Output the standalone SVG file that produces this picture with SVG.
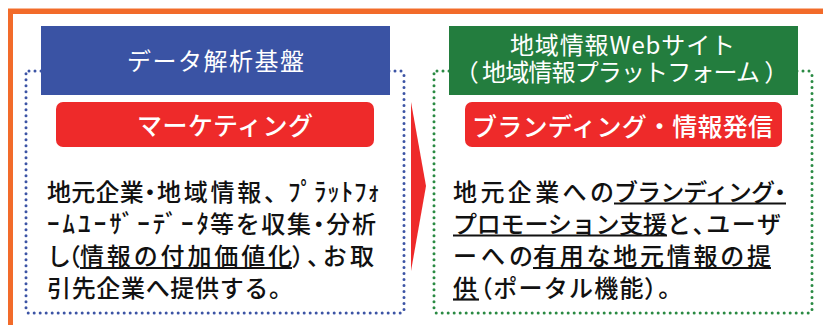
<svg xmlns="http://www.w3.org/2000/svg" width="823" height="325" viewBox="0 0 823 325">
<defs>
<style>
.body{font-family:"Noto Sans CJK JP","Noto Sans",sans-serif;font-size:24px;font-weight:500;fill:#111;}
.hw{font-size:25px;}
.p{font-feature-settings:"palt";}
.hd{font-family:"Noto Sans CJK JP","Noto Sans",sans-serif;font-size:24px;font-weight:400;fill:#fff;}
.bt{font-family:"Noto Sans CJK JP","Noto Sans",sans-serif;font-size:25px;font-weight:500;fill:#fff;}
.ul{stroke:#111;stroke-width:2.2;}
.dotb{fill:none;stroke:#3C54A5;stroke-width:3;stroke-dasharray:0 6;stroke-linecap:round;}
.dotg{fill:none;stroke:#2A8A43;stroke-width:3;stroke-dasharray:0 6;stroke-linecap:round;}
</style>
</defs>
<rect width="823" height="325" fill="#fff"/>
<line x1="8" y1="8.5" x2="823" y2="8.5" stroke="#F8B896" stroke-width="1"/>
<path d="M10.5 325 V11.5 H823" fill="none" stroke="#F26B2A" stroke-width="5"/>

<g id="connectors">
<polygon points="411,102 426,186 411,271" fill="#EE2A2A"/>
</g>

<g id="left">
<rect class="dotb" x="26" y="71" width="378" height="242" rx="3"/>
<rect x="41" y="26" width="349" height="69" fill="#3A53A4"/>
<text class="hd" x="127" y="70" textLength="177">データ解析基盤</text>
<rect x="56" y="102" width="318" height="45" rx="7" fill="#EE2A2A"/>
<text class="bt" x="137" y="135" textLength="176">マーケティング</text>
<text class="body" x="47" y="201" textLength="109">地元企業<tspan class="p">・</tspan></text>
<text class="body" x="157" y="201" textLength="131">地域情報、</text>
<text class="body hw" x="288" y="201" textLength="92">ﾌﾟﾗｯﾄﾌｫ</text>
<text class="body hw" x="47" y="233" textLength="162">ｰﾑﾕｰｻﾞｰﾃﾞｰﾀ</text>
<text class="body" x="210" y="233" textLength="166">等を収集<tspan class="p">・</tspan>分析</text>
<text class="body" x="47" y="265" textLength="33">し<tspan class="p">（</tspan></text>
<text class="body" x="80" y="265" textLength="212">情報の付加価値化</text>
<text class="body" x="292" y="265" textLength="82"><tspan class="p">）、</tspan>お取</text>
<line class="ul" x1="80" y1="268" x2="292" y2="268"/>
<text class="body" x="47" y="297" textLength="246">引先企業へ提供する。</text>
</g>

<g id="right">
<rect class="dotg" x="434" y="71" width="378" height="242" rx="3"/>
<rect x="449" y="26" width="349" height="69" fill="#237D3E"/>
<text class="hd" x="510" y="54" textLength="225">地域情報Webサイト</text>
<text class="hd p" x="466" y="81">（</text>
<text class="hd" x="482" y="81" textLength="278">地域情報プラットフォーム</text>
<text class="hd p" x="765" y="81">）</text>
<rect x="465" y="102" width="317" height="45" rx="7" fill="#EE2A2A"/>
<text class="bt" x="472" y="136" textLength="301">ブランディング・情報発信</text>
<text class="body" x="453" y="201" textLength="161">地元企業への</text>
<text class="body" x="614" y="201" textLength="172">ブランディング<tspan class="p">・</tspan></text>
<line class="ul" x1="614" y1="203.5" x2="786" y2="203.5"/>
<text class="body" x="453" y="233" textLength="214">プロモーション支援</text>
<line class="ul" x1="453" y1="235.5" x2="667" y2="235.5"/>
<text class="body" x="667" y="233" textLength="114">と<tspan class="p">、</tspan>ユーザ</text>
<text class="body" x="453" y="265" textLength="80">ーへの</text>
<text class="body" x="533" y="265" textLength="238">有用な地元情報の提</text>
<line class="ul" x1="533" y1="268" x2="771" y2="268"/>
<text class="body" x="453" y="297" textLength="26">供</text>
<text class="body" x="480" y="297" textLength="190"><tspan class="p">（</tspan>ポータル機能<tspan class="p">）。</tspan></text>
<line class="ul" x1="453" y1="299.5" x2="479" y2="299.5"/>
</g>
</svg>
